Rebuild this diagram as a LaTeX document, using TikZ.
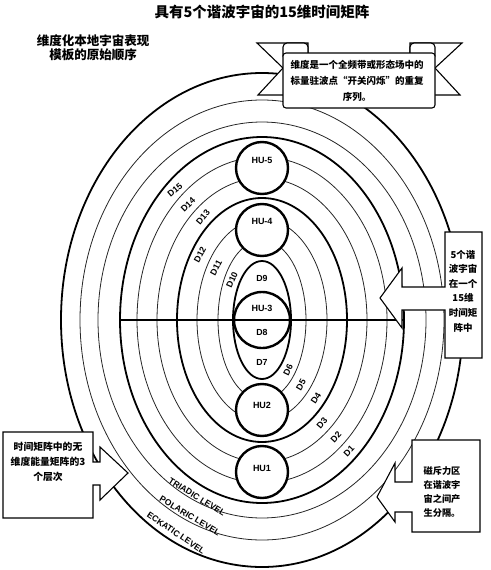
\documentclass[tikz,border=0pt]{standalone}
\usepackage{fontspec}
\setmainfont{Liberation Sans}
\newfontfamily\cjk{Noto Sans CJK SC}
\usetikzlibrary{calc}

\begin{document}
\begin{tikzpicture}[x=1pt, y=-1pt,
    thinring/.style={draw=black!85, line width=0.8pt},
    boldring/.style={draw=black, line width=1.8pt},
    axisline/.style={draw=black, line width=1.3pt},
    hu/.style={circle, draw=black, line width=2.4pt, fill=white, minimum size=52pt, inner sep=0pt},
    hulab/.style={font=\fontsize{9}{10}\selectfont\bfseries, inner sep=0pt},
    dlab/.style={font=\fontsize{8.8}{9}\selectfont\bfseries, inner sep=0pt},
    lvl/.style={font=\fontsize{8.6}{9}\selectfont\bfseries, inner sep=0pt},
    callout/.style={draw=black, line width=1.1pt, fill=white, line join=miter},
    note/.style={font=\cjk\bfseries\fontsize{9.5}{14.6}\selectfont, align=center, inner sep=0pt}
]
    \useasboundingbox (0,0) rectangle (490,570);

    % Titulos
    \node[font=\cjk\bfseries\fontsize{14.5}{16}\selectfont] (title) at (262,12) {具有5个谐波宇宙的15维时间矩阵};
    \node[font=\cjk\bfseries\fontsize{12.5}{14}\selectfont, align=center] (order) at (93,48) {维度化本地宇宙表现\\模板的原始顺序};

    % Elipses de dimensiones
    \coordinate (ctr) at (262,320);
    \draw[thinring] (ctr) ellipse [x radius=44,  y radius=80];
    \draw[thinring] (ctr) ellipse [x radius=65,  y radius=101];
    \draw[thinring] (ctr) ellipse [x radius=105, y radius=142];
    \draw[thinring] (ctr) ellipse [x radius=125, y radius=163];
    \draw[thinring] (ctr) ellipse [x radius=164, y radius=198];
    \draw[thinring] (ctr) ellipse [x radius=182, y radius=220];
    \draw[boldring] (ctr) ellipse [x radius=29,  y radius=59];
    \draw[boldring] (ctr) ellipse [x radius=85,  y radius=122];
    \draw[boldring] (ctr) ellipse [x radius=142, y radius=183];
    \draw[boldring] (ctr) ellipse [x radius=201, y radius=247];

    % Eje horizontal
    \coordinate (axw) at (120,320);
    \coordinate (axe) at (404,320);
    \draw[axisline] (axw) -- (axe);

    % Universos armonicos
    \node[hu] (hu5) at (262,168) {};
    \node[hu] (hu4) at (262,230) {};
    \node[hu, fill=none, minimum size=56pt] (hu3) at (262,320) {};
    \node[hu] (hu2) at (262,410) {};
    \node[hu] (hu1) at (262,472) {};
    \node[hulab] at ([yshift=8pt]hu5.center) {HU-5};
    \node[hulab] at ([yshift=9pt]hu4.center) {HU-4};
    \node[hulab] at ([yshift=12pt]hu3.center) {HU-3};
    \node[hulab] at ([yshift=5pt]hu2.center) {HU2};
    \node[hulab] at ([yshift=4pt]hu1.center) {HU1};

    % Cinta superior
    \draw[callout] (257,43) -- (308,43) -- (308,95) -- (258,95) -- (283,68) -- cycle;
    \draw[callout] (462,43) -- (410,43) -- (410,95) -- (460,95) -- (435,68) -- cycle;
    \draw[callout, rounded corners=4pt] (283,43) rectangle (308,60);
    \draw[callout, rounded corners=4pt] (410,43) rectangle (435,60);
    \draw[callout, rounded corners=3pt] (283,53) rectangle (435,108);
    \node[note, text width=150pt, font=\cjk\bfseries\fontsize{9.5}{16}\selectfont] (ribbon) at (357,81)
        {维度是一个全频带或形态场中的\\标量驻波点“开关闪烁”的重复\\序列。};

    % Llamadas
    \draw[callout] (445,232) -- (482,232) -- (482,358) -- (445,358) -- (445,310) -- (402,310)
        -- (402,328) -- (380,298) -- (402,268) -- (402,287) -- (445,287) -- cycle;
    \node[note] (matrix) at (463,291) {5个谐\\波宇宙\\在一个\\15维\\时间矩\\阵中};

    \draw[callout] (412,440) -- (480,440) -- (480,532) -- (412,532) -- (412,512) -- (395,512)
        -- (395,522) -- (377,497) -- (395,463) -- (395,482) -- (412,482) -- cycle;
    \node[note, font=\cjk\bfseries\fontsize{9.2}{13.7}\selectfont] (repel) at (442,492) {磁斥力区\\在谐波宇\\宙之间产\\生分隔。};

    \draw[callout] (3,432) -- (93,432) -- (93,462) -- (100,462) -- (100,447) -- (128,473)
        -- (100,500) -- (100,485) -- (93,485) -- (93,518) -- (3,518) -- cycle;
    \node[note, font=\cjk\bfseries\fontsize{9.8}{15}\selectfont] (levels) at (48,462) {时间矩阵中的无\\维度能量矩阵的3\\个层次};

    % Dimensiones
    \node[dlab, rotate=40] (d15) at (175,190) {D15};
    \node[dlab, rotate=44] (d14) at (188,205) {D14};
    \node[dlab, rotate=50] (d13) at (203,217) {D13};
    \node[dlab, rotate=62] (d12) at (200,255) {D12};
    \node[dlab, rotate=62] (d11) at (216,268) {D11};
    \node[dlab, rotate=66] (d10) at (232,280) {D10};
    \node[dlab] (d9) at (262,278) {D9};
    \node[dlab] (d8) at (262,332) {D8};
    \node[dlab] (d7) at (262,362) {D7};
    \node[dlab, rotate=64] (d6) at (288,370) {D6};
    \node[dlab, rotate=60] (d5) at (301,385) {D5};
    \node[dlab, rotate=57] (d4) at (316,398) {D4};
    \node[dlab, rotate=50] (d3) at (322,423) {D3};
    \node[dlab, rotate=47] (d2) at (336,437) {D2};
    \node[dlab, rotate=47] (d1) at (349,451) {D1};

    % Niveles
    \node[lvl, rotate=-32] (triadic) at (197,497) {TRIADIC LEVEL};
    \node[lvl, rotate=-31] (polaric) at (190,516) {POLARIC LEVEL};
    \node[lvl, rotate=-34] (eckatic) at (176,533) {ECKATIC LEVEL};
\end{tikzpicture}
\end{document}
